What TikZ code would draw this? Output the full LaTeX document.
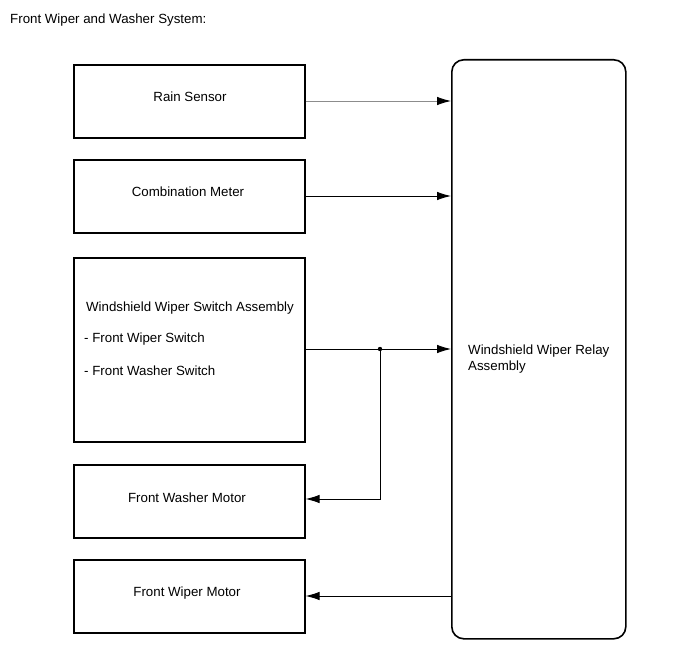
\documentclass[tikz,border=0pt]{standalone}
\usepackage{fontspec}
\setmainfont{Liberation Sans}
\usetikzlibrary{arrows.meta}
\begin{document}
\begin{tikzpicture}[x=1pt,y=-1pt,
  every node/.style={font=\fontsize{13.3}{16}\selectfont},
  blk/.style={draw,line width=1.6pt,minimum width=231pt,anchor=north west,inner sep=0pt},
  lft/.style={anchor=west,inner sep=0pt},
  conn/.style={line width=0.9pt,-{Latex[length=14pt,width=8.5pt,black]}}]
\useasboundingbox (0,0) rectangle (691,660);
\node[lft] (title) at (10,20) {Front Wiper and Washer System:};
\node[blk,minimum height=73pt] (rain) at (73,64) {};
\node (rainT) at (190,97) {Rain Sensor};
\node[blk,minimum height=73pt] (comb) at (73,159) {};
\node (combT) at (188,192) {Combination Meter};
\node[blk,minimum height=184pt] (sw) at (73,257) {};
\node (swT) at (190,308) {Windshield Wiper Switch Assembly};
\node[lft] (sw1) at (84,339) {- Front Wiper Switch};
\node[lft] (sw2) at (84,371) {- Front Washer Switch};
\node[blk,minimum height=73pt] (wash) at (73,464) {};
\node (washT) at (187,498) {Front Washer Motor};
\node[blk,minimum height=73pt] (wip) at (73,559) {};
\node (wipT) at (187,593) {Front Wiper Motor};
\node[draw,line width=1.6pt,rounded corners=12pt,minimum width=174pt,minimum height=579pt,anchor=north west,inner sep=0pt] (relay) at (451,59) {};
\node[lft,align=left] (relayT) at (468,359) {Windshield Wiper Relay\\Assembly};
\coordinate (j) at (380,349);
\draw[conn,draw=black!45] (rain.east |- 0,101) -- (relay.west |- 0,101);
\draw[conn] (comb.east |- 0,196) -- (relay.west |- 0,196);
\draw[conn] (sw.east |- j) -- (relay.west |- j);
\draw[conn] (j) -- (j |- 0,499) -- (wash.east |- 0,499);
\fill (j) circle (2.2pt);
\draw[conn] (relay.west |- 0,596) -- (wip.east |- 0,596);
\end{tikzpicture}
\end{document}
